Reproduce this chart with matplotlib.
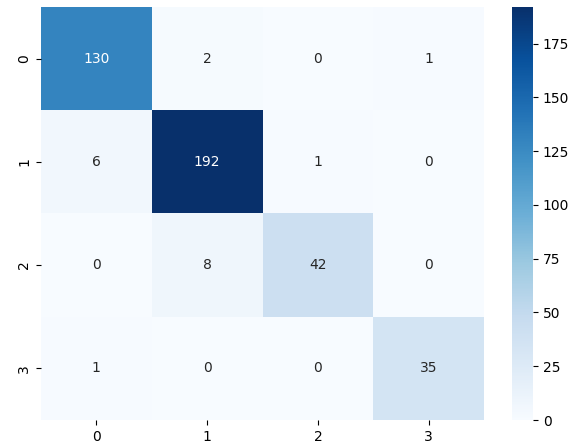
import numpy as np
import matplotlib
matplotlib.use("Agg")
import matplotlib.pyplot as plt
import seaborn as sns

labels = [0, 1, 2, 3]
row0 = [130, 2, 0, 1]
row1 = [6, 192, 1, 0]
row2 = [0, 8, 42, 0]
row3 = [1, 0, 0, 35]

cm = np.array([row0, row1, row2, row3])

fig = plt.figure(figsize=(5.74, 4.48), dpi=100)
ax = fig.add_axes([0.0714, 0.0625, 0.772, 0.922])
cax = fig.add_axes([0.892, 0.0625, 0.0366, 0.922])

sns.heatmap(cm, annot=True, fmt='d', cmap='Blues', ax=ax, cbar_ax=cax,
            xticklabels=labels, yticklabels=labels)

fig.savefig("out.png", dpi=100)
